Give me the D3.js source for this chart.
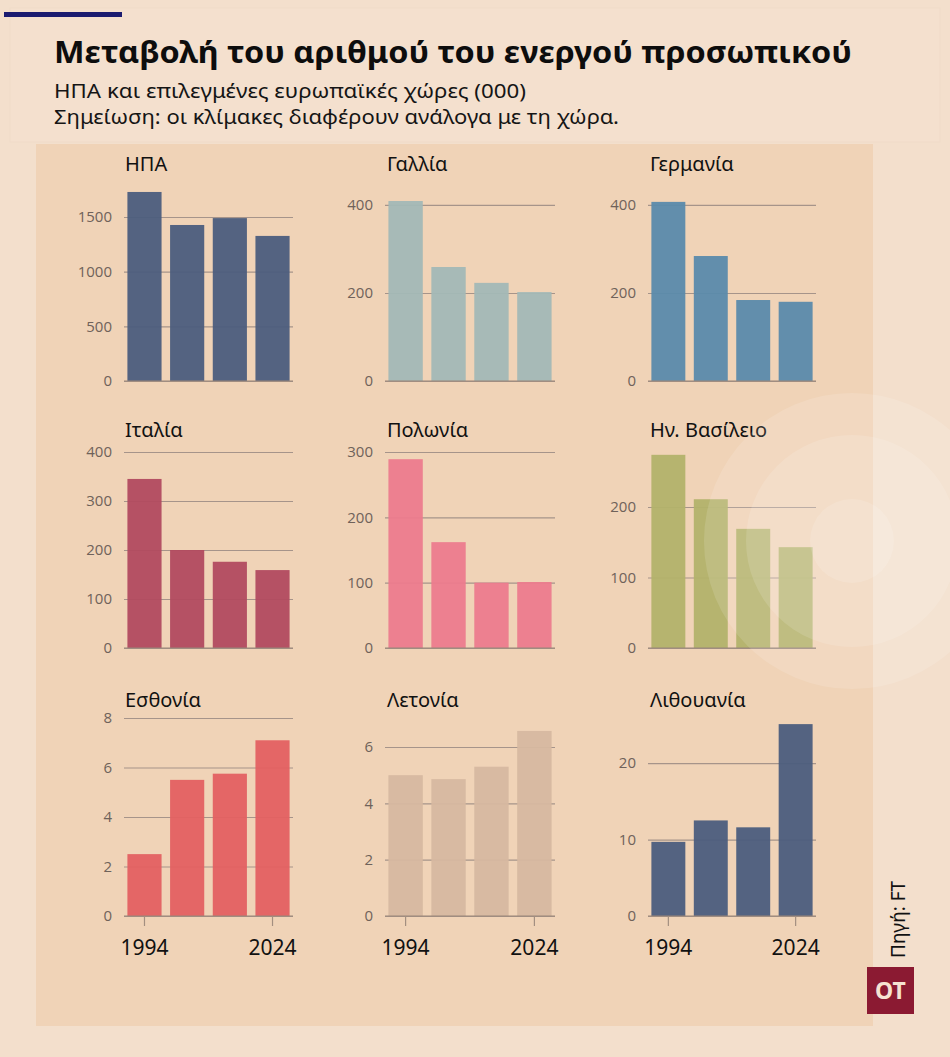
<!DOCTYPE html>
<html>
<head>
<meta charset="utf-8">
<script src="https://cdn.jsdelivr.net/npm/d3@7"></script>
<style>
  html, body { margin: 0; padding: 0; background: #f3dfcc; }
  svg { display: block; }
</style>
</head>
<body>
<svg id="chart" width="950" height="1057"></svg>
<script>
// ---------- DATA ----------
const years = ["1994", "2004", "2014", "2024"];
const shownYears = ["1994", "2024"];
const countries = ["ΗΠΑ", "Γαλλία", "Γερμανία", "Ιταλία", "Πολωνία", "Ην. Βασίλειο", "Εσθονία", "Λετονία", "Λιθουανία"];

const usaValues       = [1729, 1427, 1490, 1327];
const franceValues    = [409, 259, 223, 202];
const germanyValues   = [407, 284, 184, 180];
const italyValues     = [345, 200, 176, 159];
const polandValues    = [289, 162, 100, 101];
const ukValues        = [274, 211, 169, 143];
const estoniaValues   = [2.5, 5.5, 5.75, 7.1];
const latviaValues    = [5.0, 4.86, 5.3, 6.57];
const lithuaniaValues = [9.7, 12.5, 11.6, 25.1];

const usaTicks       = [0, 500, 1000, 1500];
const franceTicks    = [0, 200, 400];
const germanyTicks   = [0, 200, 400];
const italyTicks     = [0, 100, 200, 300, 400];
const polandTicks    = [0, 100, 200, 300];
const ukTicks        = [0, 100, 200];
const estoniaTicks   = [0, 2, 4, 6, 8];
const latviaTicks    = [0, 2, 4, 6];
const lithuaniaTicks = [0, 10, 20];

const domainMax = [1747, 434, 434, 400, 300, 278, 8, 7.03, 25.9];

const colors = ["#4b5d7d", "#a2b8b6", "#5a8aab", "#b14a5f", "#ec7b8d", "#b2b26a", "#e36061", "#d6b8a0", "#4b5d7d"];

const allValues = [usaValues, franceValues, germanyValues, italyValues, polandValues, ukValues, estoniaValues, latviaValues, lithuaniaValues];
const allTicks = [usaTicks, franceTicks, germanyTicks, italyTicks, polandTicks, ukTicks, estoniaTicks, latviaTicks, lithuaniaTicks];

// ---------- LAYOUT ----------
const svg = d3.select("#chart");
const colX = [[124, 293], [385, 555], [648, 816]];
const rowY = [[381, 190], [648, 452], [916, 718]];
const titleBase = [171, 437, 707];

// background
svg.append("rect").attr("x", 0).attr("y", 0).attr("width", 950).attr("height", 1057).attr("fill", "#f3dfcc");
svg.append("rect").attr("x", 10).attr("y", 8).attr("width", 930).attr("height", 134)
  .attr("fill", "#f4e0ce").attr("stroke", "#f0dbc8").attr("stroke-width", 1);
svg.append("rect").attr("x", 36).attr("y", 144).attr("width", 837).attr("height", 882).attr("fill", "#f0d3b7");

// top accent bar
svg.append("rect").attr("x", 4).attr("y", 12).attr("width", 118).attr("height", 5).attr("fill", "#1b1b70");

// header
const title = svg.append("text").attr("x", 54).attr("y", 63)
  .attr("font-family", "'Noto Sans', sans-serif").attr("font-weight", 700).attr("font-size", 31)
  .attr("fill", "#0d0d0d").text("Μεταβολή του αριθμού του ενεργού προσωπικού");
const tw = title.node().getComputedTextLength();
if (Math.abs(tw - 798) > 4) title.attr("textLength", 798).attr("lengthAdjust", "spacingAndGlyphs");

const sub1 = svg.append("text").attr("x", 54).attr("y", 98)
  .attr("font-family", "'Noto Sans', sans-serif").attr("font-size", 20).attr("fill", "#151515")
  .text("ΗΠΑ και επιλεγμένες ευρωπαϊκές χώρες (000)");
const s1w = sub1.node().getComputedTextLength();
if (Math.abs(s1w - 472) > 4) sub1.attr("textLength", 472).attr("lengthAdjust", "spacingAndGlyphs");
const sub2 = svg.append("text").attr("x", 54).attr("y", 124)
  .attr("font-family", "'Noto Sans', sans-serif").attr("font-size", 20).attr("fill", "#151515")
  .text("Σημείωση: οι κλίμακες διαφέρουν ανάλογα με τη χώρα.");
const s2w = sub2.node().getComputedTextLength();
if (Math.abs(s2w - 565) > 4) sub2.attr("textLength", 565).attr("lengthAdjust", "spacingAndGlyphs");

// panels
countries.forEach((name, i) => {
  const c = i % 3, r = Math.floor(i / 3);
  const x = d3.scaleBand().domain(years).range(colX[c]).paddingInner(0.2).paddingOuter(0.08);
  const y = d3.scaleLinear().domain([0, domainMax[i]]).range(rowY[r]);
  const g = svg.append("g");

  // title
  g.append("text").attr("x", colX[c][0] + (c === 0 ? 1 : 2)).attr("y", titleBase[r])
    .attr("font-family", "'Noto Sans', sans-serif").attr("font-size", 20).attr("fill", "#111")
    .text(name);

  // gridlines + tick labels via axis
  const axis = d3.axisLeft(y).tickValues(allTicks[i]).tickSize(-(colX[c][1] - colX[c][0])).tickPadding(12).tickFormat(d3.format("d"));
  const ag = g.append("g").attr("transform", `translate(${colX[c][0]},0)`).call(axis);
  ag.select(".domain").remove();
  ag.selectAll(".tick line").attr("stroke", "#a6948a").attr("stroke-width", 1.2);
  ag.selectAll(".tick text").attr("font-family", "'Open Sans', sans-serif").attr("font-size", 15)
    .attr("fill", "#6f625a");

  // bars
  g.selectAll("rect.bar").data(allValues[i]).join("rect").attr("class", "bar")
    .attr("x", (d, k) => x(years[k])).attr("width", x.bandwidth())
    .attr("y", d => y(d)).attr("height", d => y(0) - y(d))
    .attr("fill", colors[i]).attr("fill-opacity", 0.95);

  // baseline
  g.append("line").attr("x1", colX[c][0]).attr("x2", colX[c][1]).attr("y1", y(0)).attr("y2", y(0))
    .attr("stroke", "#9a8678").attr("stroke-width", 1.2);

  // x axis on bottom row
  if (r === 2) {
    const xa = d3.axisBottom(x).tickValues(shownYears).tickSize(10).tickPadding(14);
    const xg = g.append("g").attr("transform", `translate(0,${y(0)})`).call(xa);
    xg.select(".domain").remove();
    xg.selectAll(".tick line").attr("stroke", "#a38f80").attr("stroke-width", 1.2);
    xg.selectAll(".tick text").attr("font-family", "'Noto Sans', sans-serif").attr("font-size", 21)
      .attr("fill", "#111");
  }
});

// decorative circles
const circleR = [148, 106, 42];
circleR.forEach(rr => {
  svg.append("circle").attr("cx", 852).attr("cy", 541).attr("r", rr).attr("fill", "#ffffff").attr("fill-opacity", 0.13);
});

// source
svg.append("text").attr("transform", "translate(905,958) rotate(-90)")
  .attr("font-family", "'Noto Sans', sans-serif").attr("font-size", 19).attr("fill", "#111")
  .text("Πηγή: FT");

// logo
svg.append("rect").attr("x", 867).attr("y", 967).attr("width", 47).attr("height", 47).attr("fill", "#8b1a32");
svg.append("text").attr("x", 890.5).attr("y", 999).attr("text-anchor", "middle")
  .attr("font-family", "'Noto Sans', sans-serif").attr("font-weight", 700).attr("font-size", 23)
  .attr("fill", "#f6e2d2").text("OT");
</script>
</body>
</html>
